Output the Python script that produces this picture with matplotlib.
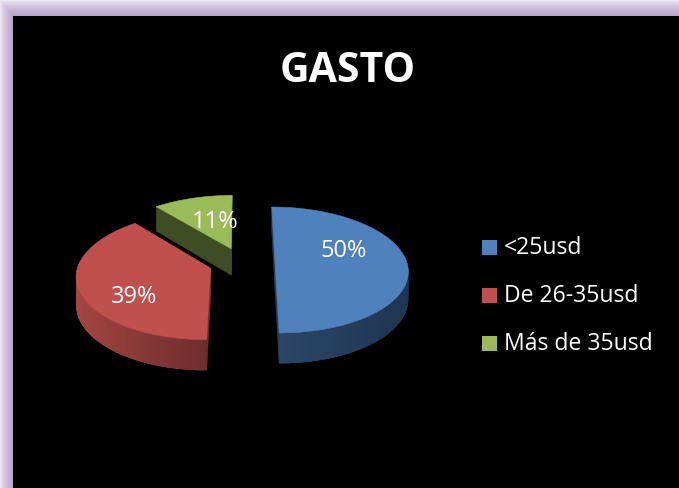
"""GASTO - exploded 3D pie on a black slide panel with a purple glow."""
import numpy as np
import matplotlib
matplotlib.use('Agg')
import matplotlib.pyplot as plt
from matplotlib.colors import LinearSegmentedColormap, to_rgb
from matplotlib.patches import Polygon, Rectangle

W, H = 679, 488

title = 'GASTO'
categories = ['<25usd', 'De 26-35usd', 'Más de 35usd']
shares = [50, 39, 11]

TOP = ['#4F81BD', '#C0504D', '#9BBB59']
# outer wall colour at the front of the pie and at its side
WALL_FRONT = ['#2A4666', '#6E2E2C', '#3F4D24']
WALL_SIDE = ['#1E3450', '#A84744', '#3F4D24']
EDGE_FACE = ['#233C5A', '#6E2E2C', '#3F4D24']
GLOW = LinearSegmentedColormap.from_list('glow', ['#EFE9F4', '#B9A3CF'])
FONT = 'Open Sans'

# projection of the pie plane to pixels, fitted to the picture
CX, CY = 242, 263
FX, FY = 132, 62.2
PERSP = 0.111
DEPTH = 27
EXPLODE = 0.25


def project(xw, zw, drop=0.0):
    s = 1 + PERSP * zw
    return CX + FX * xw / s, CY - FY * zw / s + drop * DEPTH / s


def wedge_edges():
    ends = np.cumsum(shares) / np.sum(shares) * 360
    starts = np.r_[0, ends[:-1]]
    return starts, ends


def draw_wedge(ax, i, start, end):
    mid = np.radians((start + end) / 2)
    ox, oz = EXPLODE * np.sin(mid), EXPLODE * np.cos(mid)
    th = np.radians(np.linspace(start, end, 121))
    rx, rz = ox + np.sin(th), oz + np.cos(th)

    # straight cut faces first, the top hides whatever it should
    for k in (0, -1):
        ax0, az0 = project(ox, oz)
        ax1, az1 = project(ox, oz, 1)
        bx0, bz0 = project(rx[k], rz[k])
        bx1, bz1 = project(rx[k], rz[k], 1)
        ax.add_patch(Polygon([(ax0, az0), (bx0, bz0), (bx1, bz1), (ax1, az1)],
                             fc=EDGE_FACE[i], ec=EDGE_FACE[i], lw=0.4, zorder=2 + i))

    # outer wall, shaded strip by strip; strips overlap so no seams show
    front = np.array(to_rgb(WALL_FRONT[i]))
    side = np.array(to_rgb(WALL_SIDE[i]))
    for j in range(len(th) - 1):
        if np.cos(th[j]) > 0.1 and np.cos(th[j + 1]) > 0.1:
            continue
        j2 = min(j + 3, len(th) - 1)
        t = abs(np.sin((th[j] + th[j + 1]) / 2))
        col = front + (side - front) * t
        x0, y0 = project(rx[j:j2 + 1], rz[j:j2 + 1])
        x1, y1 = project(rx[j:j2 + 1], rz[j:j2 + 1], 1)
        pts = np.r_[np.c_[x0, y0], np.c_[x1, y1][::-1]]
        ax.add_patch(Polygon(pts, fc=col, ec='none', zorder=2 + i))

    # top face
    px, py = project(np.r_[ox, rx], np.r_[oz, rz])
    ax.add_patch(Polygon(np.c_[px, py], fc=TOP[i], ec=TOP[i], lw=0.4, zorder=2.5 + i))


def main():
    fig = plt.figure(figsize=(W / 100, H / 100), dpi=100, facecolor='black')
    ax = fig.add_axes([0, 0, 1, 1])
    ax.set_xlim(0, W)
    ax.set_ylim(H, 0)
    ax.axis('off')

    # purple glow round the top and left of the panel
    yy, xx = np.mgrid[0:H, 0:W]
    glow = np.minimum(np.clip((xx + 0.5) / 13, 0, 1), np.clip((yy + 0.5) / 16, 0, 1)) ** 0.6
    ax.imshow(glow, cmap=GLOW, extent=(0, W, H, 0), aspect='auto', zorder=0)
    ax.add_patch(Rectangle((13, 16), W - 13, H - 16, fc='black', ec='none', zorder=1))
    ax.set_xlim(0, W)
    ax.set_ylim(H, 0)

    starts, ends = wedge_edges()
    for i in (2, 1, 0):
        draw_wedge(ax, i, starts[i], ends[i])

    ax.text(348, 72, title, color='white', fontsize=29.5, fontweight='bold',
            family=FONT, ha='center', va='center', zorder=10)

    label_xy = [(344, 251), (134, 297), (215, 222)]
    for (x, y), val in zip(label_xy, shares):
        ax.text(x, y, f'{val}%', color='white', fontsize=17, family=FONT,
                ha='center', va='center', zorder=10)

    for k, name in enumerate(categories):
        y = 247.5 + k * 48
        ax.add_patch(Rectangle((482, y - 7.5), 15, 15, fc=TOP[k], ec='none', zorder=10))
        ax.text(504, y + 1, name, color='white', fontsize=16.6, family=FONT,
                ha='left', va='center', zorder=10)

    fig.savefig('out.png', dpi=100, facecolor='black')


if __name__ == '__main__':
    main()
